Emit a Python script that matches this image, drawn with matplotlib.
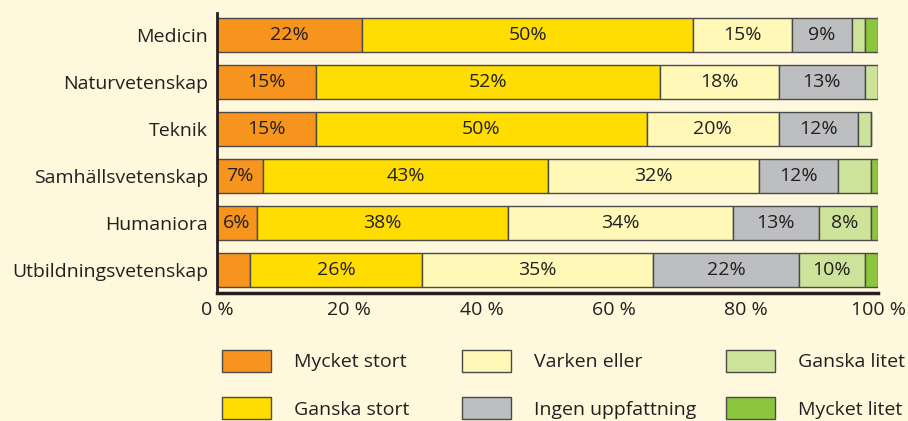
import matplotlib
matplotlib.use("Agg")
import matplotlib.pyplot as plt
from matplotlib.patches import Patch

plt.rcParams['font.family'] = ['Open Sans', 'DejaVu Sans']

categories = ["Medicin", "Naturvetenskap", "Teknik",
              "Samhällsvetenskap", "Humaniora", "Utbildningsvetenskap"]
series = ["Mycket stort", "Ganska stort", "Varken eller",
          "Ingen uppfattning", "Ganska litet", "Mycket litet"]
mycket_stort = [22, 15, 15, 7, 6, 5]
ganska_stort = [50, 52, 50, 43, 38, 26]
varken_eller = [15, 18, 20, 32, 34, 35]
ingen_uppfattning = [9, 13, 12, 12, 13, 22]
ganska_litet = [2, 2, 2, 5, 8, 10]
mycket_litet = [2, 0, 0, 1, 1, 2]
values = [mycket_stort, ganska_stort, varken_eller,
          ingen_uppfattning, ganska_litet, mycket_litet]
colors = ["#F7941D", "#FFDD00", "#FFF8B6", "#BCBEC0", "#CDE39A", "#8CC63F"]
xticks = [0, 20, 40, 60, 80, 100]

bg = "#FFF8DC"
txt = "#231F20"
edge = "#4A4A4A"
fs = 14

fig = plt.figure(figsize=(9.08, 4.21), dpi=100, facecolor=bg)
ax = fig.add_axes([0.239, 0.304, 0.728, 0.665], facecolor=bg)

ypos = list(range(len(categories)))
left = [0] * len(categories)
for vals, col in zip(values, colors):
    ax.barh(ypos, vals, left=left, height=0.72, color=col,
            edgecolor=edge, linewidth=1.0)
    for y, v, l in zip(ypos, vals, left):
        if v >= 6:
            ax.text(l + v / 2, y, f"{v}%", ha="center", va="center",
                    fontsize=fs, color=txt)
    left = [a + b for a, b in zip(left, vals)]

ax.set_xlim(0, 100)
ax.set_ylim(5.49, -0.47)
ax.set_yticks(ypos)
ax.set_yticklabels(categories, fontsize=fs, color=txt)
ax.set_xticks(xticks)
ax.set_xticklabels([f"{t} %" for t in xticks], fontsize=fs, color=txt)
ax.tick_params(axis="both", length=0)
ax.tick_params(axis="y", pad=6.5)
ax.tick_params(axis="x", pad=6)
for s in ["top", "right"]:
    ax.spines[s].set_visible(False)
ax.spines["left"].set_linewidth(2)
ax.spines["bottom"].set_linewidth(2.5)
ax.spines["left"].set_color(txt)
ax.spines["bottom"].set_color(txt)

# legend: three columns of two entries
col_x = [222 / 908, 462 / 908, 726 / 908]
for j in range(3):
    handles = [Patch(facecolor=colors[2 * j + k], edgecolor=edge, linewidth=1,
                     label=series[2 * j + k]) for k in range(2)]
    fig.legend(handles=handles, loc="upper left", bbox_to_anchor=(col_x[j], 1 - 350 / 421),
               frameon=False, fontsize=fs, handlelength=2.5, handleheight=1.35,
               handletextpad=1.2, labelspacing=1.3, borderpad=0, borderaxespad=0,
               labelcolor=txt)

fig.savefig("out.png", dpi=100, facecolor=bg)
